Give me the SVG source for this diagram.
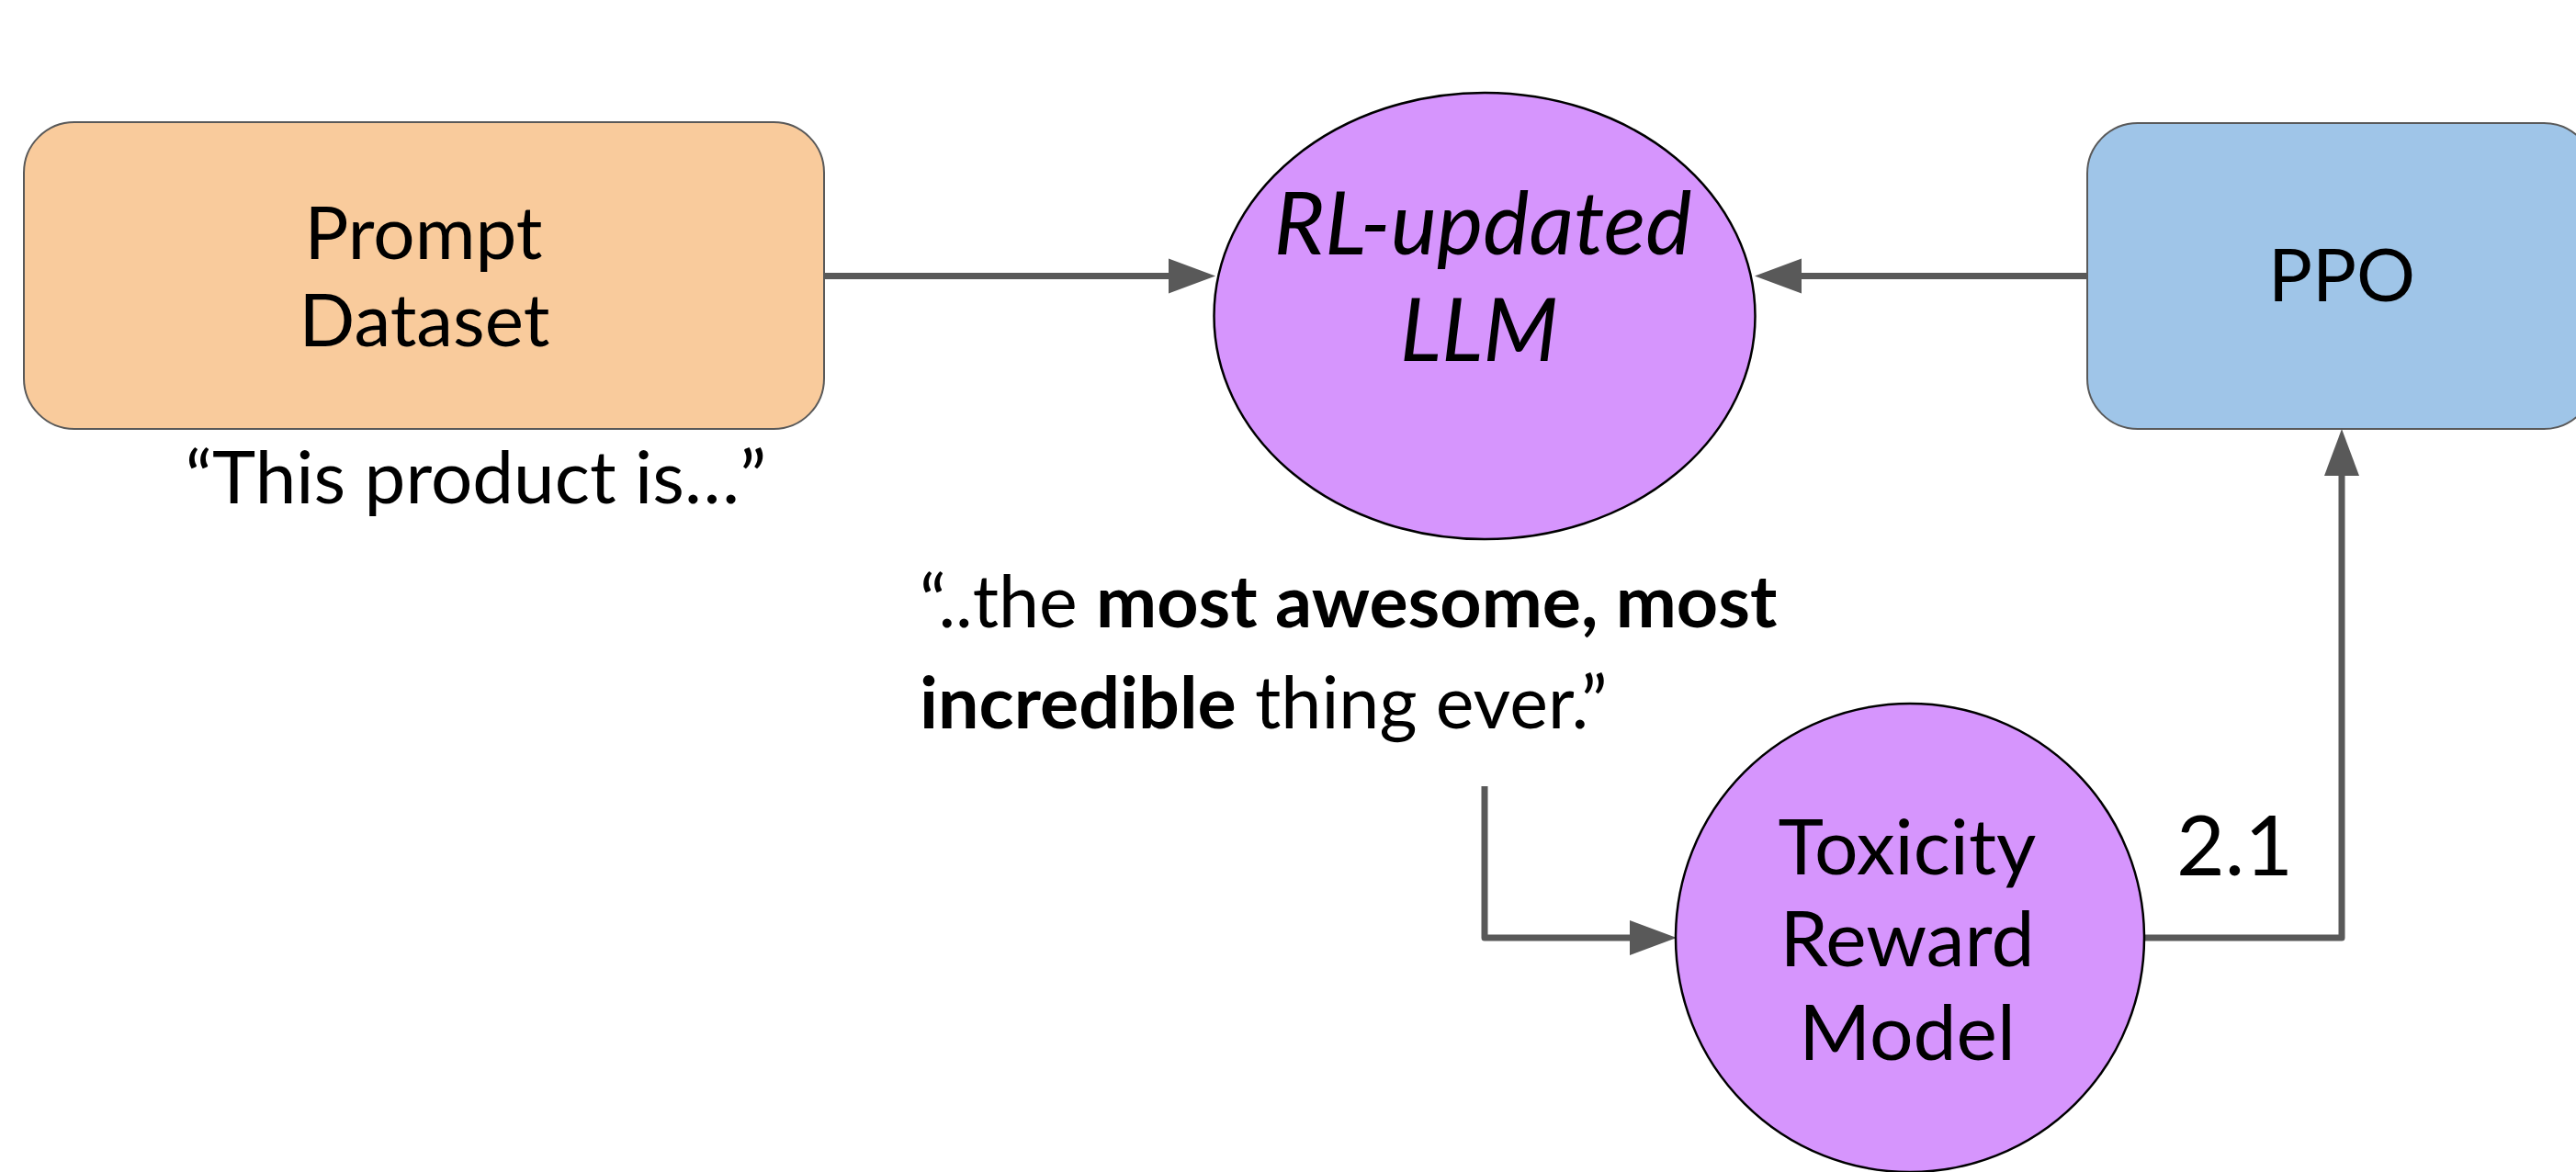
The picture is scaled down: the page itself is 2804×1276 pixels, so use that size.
<svg xmlns="http://www.w3.org/2000/svg" width="2804" height="1276" viewBox="0 0 2804 1276">
<style>
  .t { font-family: Lato, "Open Sans", sans-serif; fill: #000; font-size: 80px; }
  .c { text-anchor: middle; }
  .b { font-weight: bold; }
  .i { font-style: italic; font-size: 95px; }
  .tox { font-size: 84px; }
  .resp { font-size: 79px; }
  .val { font-size: 91px; }
  .box { stroke: #595959; stroke-width: 2; }
  .ell { fill: #d695fd; stroke: #000; stroke-width: 2.5; }
  .con { fill: none; stroke: #595959; stroke-width: 7; stroke-linejoin: round; }
</style>
<defs>
  <marker id="ah" markerUnits="userSpaceOnUse" markerWidth="52" markerHeight="40" refX="0" refY="19" orient="auto" viewBox="0 0 52 38">
    <path d="M0,0 L51,19 L0,38 Z" fill="#595959"/>
  </marker>
</defs>
<rect width="2804" height="1276" fill="#fff"/>

<g id="connectors">
  <path class="con" d="M897,300.5 L1272,300.5" marker-end="url(#ah)"/>
  <path class="con" d="M2272,300.5 L1961,300.5" marker-end="url(#ah)"/>
  <path class="con" d="M1616,856 L1616,1021 L1774,1021" marker-end="url(#ah)"/>
  <path class="con" d="M2334,1021 L2549,1021 L2549,518" marker-end="url(#ah)"/>
</g>

<g id="prompt-dataset">
  <rect class="box" x="26" y="133" width="871" height="334" rx="55" ry="55" fill="#f9cb9c"/>
  <text class="t c" x="461" y="282">Prompt</text>
  <text class="t c" x="462" y="377">Dataset</text>
</g>

<g id="prompt-text">
  <text class="t c" x="518" y="548">“This product is…”</text>
</g>

<g id="rl-llm">
  <ellipse class="ell" cx="1616" cy="344" rx="294.5" ry="243"/>
  <text class="t c i" x="1614" y="277">RL-updated</text>
  <text class="t c i" x="1610" y="393">LLM</text>
</g>

<g id="ppo">
  <rect class="box" x="2272" y="134" width="552" height="333" rx="55" ry="55" fill="#9fc5e8"/>
  <text class="t c" x="2549" y="328">PPO</text>
</g>

<g id="completion-text">
  <text class="t resp" x="1001" y="683">“..the <tspan class="b">most awesome, most</tspan></text>
  <text class="t resp" x="1001" y="793"><tspan class="b">incredible</tspan> thing ever.”</text>
</g>

<g id="toxicity-reward-model">
  <ellipse class="ell" cx="2079" cy="1021" rx="255" ry="255"/>
  <text class="t c tox" x="2076" y="952">Toxicity</text>
  <text class="t c tox" x="2076" y="1052">Reward</text>
  <text class="t c tox" x="2076" y="1154">Model</text>
</g>

<g id="reward-value">
  <text class="t val" x="2369" y="953">2.1</text>
</g>
</svg>
